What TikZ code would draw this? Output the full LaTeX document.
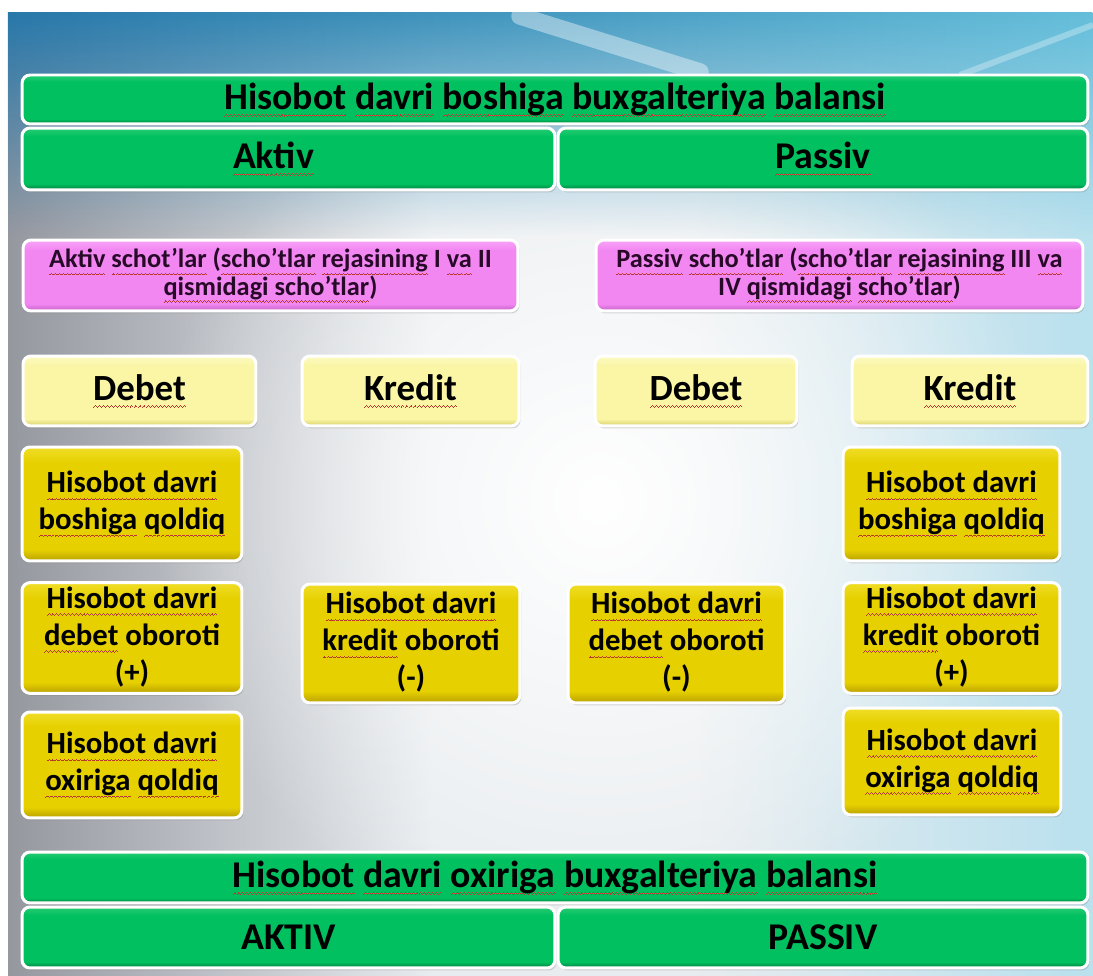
\documentclass[tikz,border=0pt]{standalone}
\usepackage{fontspec}
\setmainfont{Carlito}
\usetikzlibrary{shadows,fadings}
\definecolor{gmn}{RGB}{0,192,96}
\definecolor{gdk}{RGB}{0,125,60}
\definecolor{glt}{RGB}{40,205,115}
\definecolor{pmn}{RGB}{242,135,242}
\definecolor{pdk}{RGB}{195,95,195}
\definecolor{plt}{RGB}{248,165,248}
\definecolor{lmn}{RGB}{250,246,165}
\definecolor{ldk}{RGB}{215,205,105}
\definecolor{llt}{RGB}{252,250,195}
\definecolor{ymn}{RGB}{230,208,0}
\definecolor{ydk}{RGB}{185,160,0}
\definecolor{ylt}{RGB}{240,222,40}
\definecolor{bgbase}{RGB}{232,236,239}
\definecolor{bggrey}{RGB}{150,152,160}
\definecolor{bgcyan}{RGB}{185,225,238}
\definecolor{topL}{RGB}{40,120,170}
\definecolor{topR}{RGB}{100,190,218}
\definecolor{ptext}{RGB}{40,10,40}
\definecolor{sqc}{RGB}{185,55,45}
\pgfdeclareverticalshading{gsh}{100bp}{color(0bp)=(gdk); color(25bp)=(gdk); color(30bp)=(gmn); color(68bp)=(gmn); color(75bp)=(glt); color(100bp)=(glt)}
\pgfdeclareverticalshading{psh}{100bp}{color(0bp)=(pdk); color(25bp)=(pdk); color(30bp)=(pmn); color(68bp)=(pmn); color(75bp)=(plt); color(100bp)=(plt)}
\pgfdeclareverticalshading{lsh}{100bp}{color(0bp)=(ldk); color(25bp)=(ldk); color(30bp)=(lmn); color(68bp)=(lmn); color(75bp)=(llt); color(100bp)=(llt)}
\pgfdeclareverticalshading{ysh}{100bp}{color(0bp)=(ydk); color(25bp)=(ydk); color(30bp)=(ymn); color(68bp)=(ymn); color(75bp)=(ylt); color(100bp)=(ylt)}
\tikzfading[name=softglow, inner color=transparent!0, outer color=transparent!100]
\newsavebox\sqbox
\newcommand\sqwave{\hbox{\rule[-4.2pt]{0.55pt}{0.5pt}\rule[-3.7pt]{0.55pt}{0.5pt}\rule[-3.2pt]{0.55pt}{0.5pt}\rule[-3.7pt]{0.55pt}{0.5pt}}}
\newcommand\sq[1]{\sbox\sqbox{#1}\rlap{\textcolor{sqc}{\hbox to \wd\sqbox{\xleaders\sqwave\hfil}}}\usebox\sqbox}
\newcommand\ylines[2][0cm]{\raisebox{#1}{\begin{tabular}{@{}c@{}}#2\end{tabular}}}
\tikzset{
  basebox/.style={rounded corners=0.16cm, draw=white, line width=0.06cm, inner sep=0pt, align=center,
    drop shadow={shadow xshift=0.03cm, shadow yshift=-0.05cm, opacity=0.3}},
  gbox/.style={basebox, shade, shading=gsh, font=\bfseries\fontsize{21.5}{25}\selectfont},
  pbox/.style={basebox, shade, shading=psh, text=ptext, font=\bfseries\fontsize{15}{15.5}\selectfont},
  lbox/.style={basebox, shade, shading=lsh, font=\bfseries\fontsize{21}{25}\selectfont},
  ybox/.style={basebox, shade, shading=ysh, minimum width=4.4cm, font=\bfseries\fontsize{17.5}{21}\selectfont},
}
\begin{document}
\begin{tikzpicture}[x=0.02cm, y=-0.02cm]
\useasboundingbox (0,0) rectangle (1093,976);
% background
\fill[white] (0,0) rectangle (1093,976);
\fill[bgbase] (8,13) rectangle (1093,976);
\fill[bggrey, path fading=east] (8,13) rectangle (430,976);
\fill[bgcyan, path fading=west] (700,13) rectangle (1093,976);
\fill[white, path fading=softglow] (600,500) ellipse (9cm and 9cm);
\shade[left color=topL, right color=topR, path fading=south] (8,13) rectangle (1093,235);
\draw[white, opacity=0.4, line width=0.35cm, line cap=round] (520,16) -- (700,72);
\draw[white, opacity=0.3, line width=0.12cm] (960,75) -- (1093,25);

% top balance
\node[gbox, minimum width=21.32cm, minimum height=0.98cm] (t1) at (555,99.5) {\sq{Hisobot} \sq{davri} \sq{boshiga} \sq{buxgalteriya} \sq{balansi}};
\node[gbox, minimum width=10.66cm, minimum height=1.24cm] (a1) at (288.5,159) {\sq{Aktiv}\hspace*{0.6cm}};
\node[gbox, minimum width=10.6cm, minimum height=1.24cm] (p1) at (823,159) {\sq{Passiv}};

% account types
\node[pbox, minimum width=9.9cm, minimum height=1.42cm] (pl) at (270.5,275.5) {\sq{Aktiv} \sq{schot’lar} (\sq{scho’tlar} \sq{rejasining} I \sq{va} II\\ \sq{qismidagi scho’tlar})};
\node[pbox, minimum width=9.74cm, minimum height=1.42cm] (pr) at (839.5,275.5) {\sq{Passiv} \sq{scho’tlar} (\sq{scho’tlar} \sq{rejasining} III \sq{va}\\ IV \sq{qismidagi} \sq{scho’tlar})};

% headers
\node[lbox, minimum width=4.66cm, minimum height=1.4cm] (h1) at (139.5,391) {\sq{Debet}};
\node[lbox, minimum width=4.34cm, minimum height=1.4cm] (h2) at (410.5,391) {\sq{Kredit}};
\node[lbox, minimum width=4.04cm, minimum height=1.4cm] (h3) at (696,391) {\sq{Debet}};
\node[lbox, minimum width=4.72cm, minimum height=1.4cm] (h4) at (970,391) {\sq{Kredit}};

% yellow boxes
\node[ybox, minimum height=2.28cm] (y1l) at (132,504) {\ylines[0.3cm]{\sq{Hisobot davri}\\ \sq{boshiga} \sq{qoldiq}}};
\node[ybox, minimum width=4.34cm, minimum height=2.28cm] (y1r) at (951.5,504) {\ylines[0.3cm]{\sq{Hisobot davri}\\ \sq{boshiga} \sq{qoldiq}}};
\node[ybox, minimum height=2.2cm] (y2l) at (132,638) {\ylines[-0.05cm]{\sq{Hisobot davri}\\ \sq{debet} oboroti\\ (+)}};
\node[ybox, minimum width=4.36cm, minimum height=2.38cm] (y2ml) at (411,643.5) {\ylines[0.05cm]{\sq{Hisobot davri}\\ \sq{kredit} oboroti\\ (-)}};
\node[ybox, minimum width=4.34cm, minimum height=2.38cm] (y2mr) at (676.5,643.5) {\ylines[0.05cm]{\sq{Hisobot davri}\\ \sq{debet} oboroti\\ (-)}};
\node[ybox, minimum width=4.34cm, minimum height=2.2cm] (y2r) at (951.5,638) {\ylines[-0.05cm]{\sq{Hisobot davri}\\ \sq{kredit} oboroti\\ (+)}};
\node[ybox, minimum height=2.12cm] (y3l) at (132,765) {\ylines[0.3cm]{\sq{Hisobot davri}\\ \sq{oxiriga} \sq{qoldiq}}};
\node[ybox, minimum width=4.36cm, minimum height=2.14cm] (y3r) at (952,761.5) {\ylines[0.3cm]{\sq{Hisobot davri}\\ \sq{oxiriga} \sq{qoldiq}}};

% bottom balance
\node[gbox, minimum width=21.32cm, minimum height=1.02cm] (t2) at (555,877.5) {\sq{Hisobot} \sq{davri} \sq{oxiriga} \sq{buxgalteriya} \sq{balansi}};
\node[gbox, minimum width=10.66cm, minimum height=1.22cm] (a2) at (288.5,937.5) {AKTIV};
\node[gbox, minimum width=10.6cm, minimum height=1.22cm] (p2) at (823,937.5) {PASSIV};
\end{tikzpicture}
\end{document}
